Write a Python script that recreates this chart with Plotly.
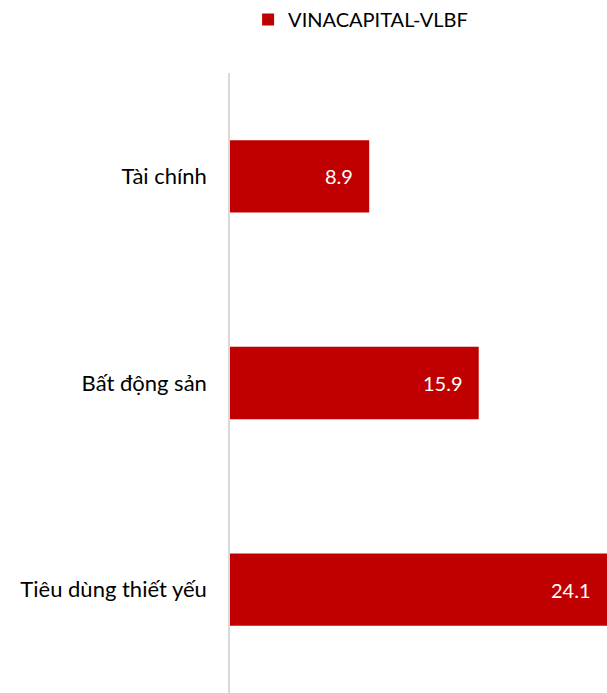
import plotly.graph_objects as go

categories = ["Tài chính", "Bất động sản", "Tiêu dùng thiết yếu"]
values = [8.9, 15.9, 24.1]
series_name = "VINACAPITAL-VLBF"
bar_color = "#C00000"

fig = go.Figure()
fig.add_trace(go.Bar(
    y=categories, x=values, orientation="h", name=series_name,
    marker=dict(color=bar_color, line=dict(width=0)),
    width=0.35, showlegend=True,
))

for c, v in zip(categories, values):
    fig.add_annotation(x=v, y=c, text=f"{v:.1f}", showarrow=False,
                       xanchor="right", xshift=-14,
                       font=dict(color="white", size=20, family="Lato"))

fig.update_layout(
    width=607, height=693,
    margin=dict(l=230, r=0, t=73, b=0),
    paper_bgcolor="white", plot_bgcolor="white",
    font=dict(family="Lato", size=20, color="#000000"),
    showlegend=True,
    legend=dict(orientation="h", x=0.048, xanchor="left", y=1.0, yref="container",
                yanchor="top", font=dict(size=20, color="#000000"),
                itemwidth=30),
    xaxis=dict(range=[0, 24.1], showgrid=False, showticklabels=False,
               zeroline=False, showline=False),
    yaxis=dict(categoryorder="array", categoryarray=categories, autorange="reversed",
               showline=True, linecolor="#d9d9d9", linewidth=1.5, ticks="",
               showgrid=False, ticklabelstandoff=17, tickfont=dict(size=22)),
)

fig.write_html("out.html")
